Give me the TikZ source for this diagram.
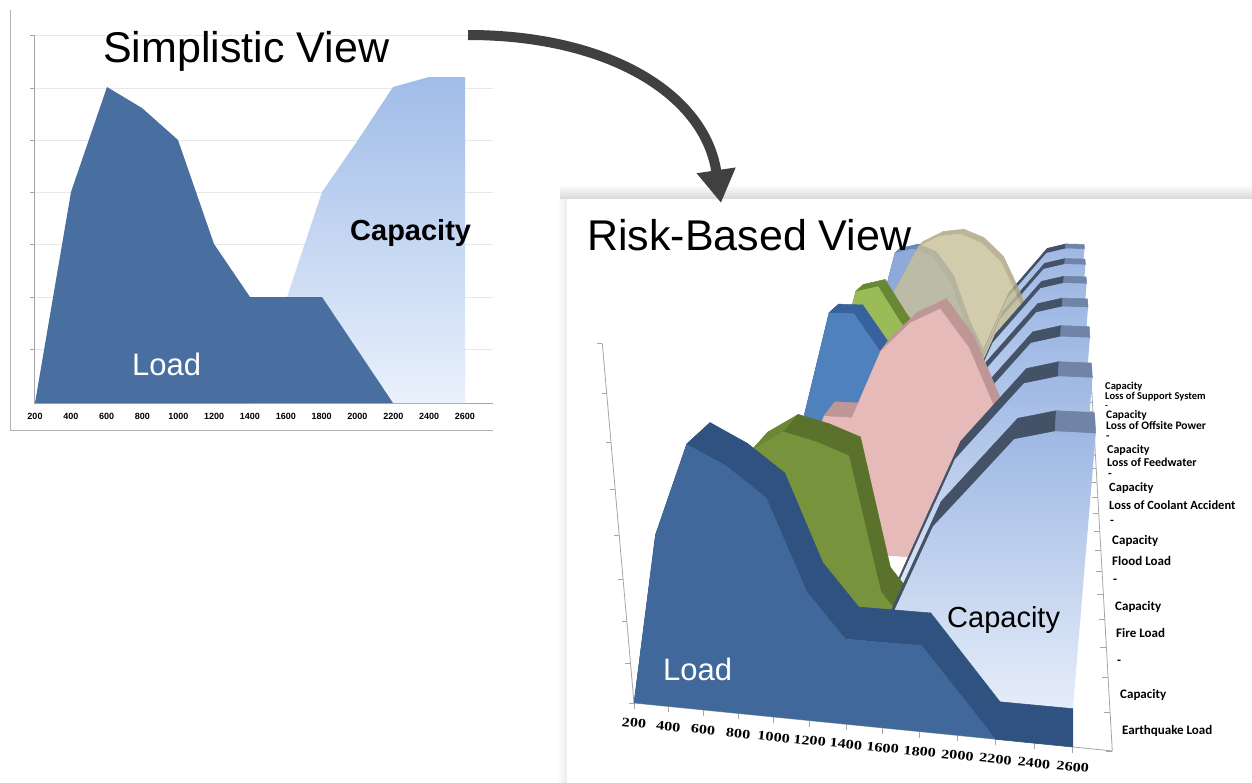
\documentclass[tikz,border=0pt]{standalone}
\usepackage{fontspec}
\setmainfont{Liberation Sans}
\newfontfamily\carl{Carlito}
\newfontfamily\serb{Liberation Serif}
\usetikzlibrary{arrows.meta,calc}
\definecolor{loadF}{RGB}{64,104,155}
\definecolor{loadT}{RGB}{47,82,128}
\definecolor{capT}{RGB}{158,184,228}
\definecolor{capB}{RGB}{230,237,249}
\definecolor{capR}{RGB}{68,82,104}
\definecolor{capF}{RGB}{112,132,168}
\definecolor{fireF}{RGB}{119,147,60}
\definecolor{fireR}{RGB}{108,136,54}
\definecolor{fireT}{RGB}{90,114,44}
\definecolor{floodF}{RGB}{230,186,185}
\definecolor{floodT}{RGB}{190,150,150}
\definecolor{locaF}{RGB}{79,129,189}
\definecolor{locaT}{RGB}{56,98,158}
\definecolor{fwF}{RGB}{155,187,89}
\definecolor{fwT}{RGB}{106,136,52}
\definecolor{offF}{RGB}{200,192,152}
\definecolor{offT}{RGB}{170,162,125}
\definecolor{supF}{RGB}{142,170,219}
\definecolor{supT}{RGB}{104,136,190}
\definecolor{arrC}{RGB}{64,64,64}
\definecolor{sLoad}{RGB}{72,111,160}
\definecolor{sCapT}{RGB}{160,188,232}
\definecolor{sCapB}{RGB}{234,241,252}
\def\capv{0,0,0,0,0,0,0,2.04,4.06,5.06,6.06,6.27,6.27}
\newif\ifdrawstrip
\newcommand\slab[6]{%
  \pgfmathsetmacro\zf{#1}%
  \pgfmathsetmacro\zb{#1+1}%
  \edef\vlist{#2}%
  \foreach \yv [count=\k from 0] in \vlist {%
    \expandafter\xdef\csname sv\k\endcsname{\yv}%
    \coordinate (f\k) at ({pu(\k,\yv,\zf)},{pv(\k,\yv,\zf)});
    \coordinate (b\k) at ({pu(\k,\yv,\zb)},{pv(\k,\yv,\zb)});
  }%
  \coordinate (g0) at ({pu(0,0,\zf)},{pv(0,0,\zf)});
  \coordinate (g12) at ({pu(12,0,\zf)},{pv(12,0,\zf)});
  \begin{scope}[#6]
    \foreach \i in {0,...,11} {%
      \pgfmathtruncatemacro\j{\i+1}%
      \edef\ya{\csname sv\i\endcsname}%
      \edef\yb{\csname sv\j\endcsname}%
      \ifdim\yb pt>\ya pt\relax\def\sc{#4}\else\def\sc{#5}\fi
      \drawstriptrue
      \ifdim\ya pt=0pt\relax\ifdim\yb pt=0pt\relax\ifdim\zf pt>0pt\relax\drawstripfalse\fi\fi\fi
      \ifdrawstrip
        \filldraw[fill=\sc, draw=\sc, line width=0.5pt, line join=round] (f\i) -- (f\j) -- (b\j) -- (b\i) -- cycle;
      \fi
    }
    \path[#3] (g0) \foreach \i in {0,...,12} { -- (f\i)} -- (g12) -- cycle;
  \end{scope}
}
\begin{document}
\begin{tikzpicture}[x=1pt,y=-1pt,
  declare function={
    pw(\x,\y,\z)=1-0.0055*\x-0.01534*\y+0.0577*\z;
    pu(\x,\y,\z)=(634+30.68*\x-13.2*\y+62*\z)/pw(\x,\y,\z);
    pv(\x,\y,\z)=(703-0.44*\x-50.2*\y+5.19*\z)/pw(\x,\y,\z);
  },
  bigtitle/.style={font=\fontsize{43}{45}\selectfont, inner sep=0pt, anchor=base west},
  bigcap/.style={font=\fontsize{29}{31}\selectfont, inner sep=0pt, anchor=base west},
  bigload/.style={font=\fontsize{31}{33}\selectfont, text=white, inner sep=0pt, anchor=base west},
  stick/.style={font=\bfseries\fontsize{9}{9}\selectfont, inner sep=0pt},
  xtick/.style={font=\serb\bfseries\fontsize{13}{13}\selectfont, inner sep=0pt, rotate=-5.7, xscale=1.25},
  dlab/.style={font=\carl\bfseries\fontsize{#1}{#1}\selectfont, inner sep=0pt, anchor=west},
  dlab/.default=13,
  axisline/.style={draw=black!35, line width=0.8pt},
  gridline/.style={draw=black!9, line width=0.8pt},
  arrowline/.style={draw=arrC, line width=10pt, line cap=butt, -{Triangle[length=33pt,width=37pt]}}
]
\useasboundingbox (0,0) rectangle (1252,782);
\fill[white] (0,0) rectangle (1252,782);

% ---------------- left chart ----------------
\draw[draw=black!30, line width=1pt] (10,10) -- (10,430) -- (493,430);
\foreach \gy in {35,88,140,192,244,297,349} {
  \draw[gridline] (34,\gy) -- (493,\gy);
  \draw[axisline] (30,\gy) -- (34,\gy);
}
\draw[axisline] (34,35) -- (34,403) -- (493,403);
\shade[top color=sCapT, bottom color=sCapB]
  (250,403) -- (287,297) -- (322,192) -- (358,140) -- (393,87) -- (429,77) -- (465,77) -- (465,403) -- cycle;
\fill[sLoad] (35,403) -- (71,192) -- (107,87) -- (142,108) -- (178,140) -- (214,244) -- (250,297) -- (322,297) -- (393,403) -- cycle;
\foreach \v [count=\n from 0] in {200,400,600,800,1000,1200,1400,1600,1800,2000,2200,2400,2600} {
  \node[stick] (sl\n) at ({35+35.83*\n},416) {\v};
}
\node[bigtitle] (tS) at (103,62) {Simplistic View};
\node[bigcap, font=\bfseries\fontsize{29}{31}\selectfont] (cS) at (350,240) {Capacity};
\node[bigload] (lS) at (132,375) {Load};

% ---------------- right panel ----------------
\shade[top color=white, bottom color=black!15] (560,184) rectangle (1252,199);
\shade[left color=white, right color=black!8] (557,199) rectangle (567,782);
\fill[white] (567,199) rectangle (1252,782);

% axes of the 3D chart
\foreach \k in {0,...,8} {
  \coordinate (va\k) at ({pu(0,\k,0)},{pv(0,\k,0)});
  \draw[axisline] (va\k) -- ++(-5,0);
}
\draw[axisline] (va0) -- (va8);
\coordinate (da0) at ({pu(13,0,0)},{pv(13,0,0)});
\coordinate (da20) at ({pu(13,0,20)},{pv(13,0,20)});
\draw[axisline] (va0) -- (da0);
\draw[axisline] (da0) -- (da20);
\foreach \k in {0,...,20} {
  \coordinate (dt\k) at ({pu(13,0,\k)},{pv(13,0,\k)});
  \draw[axisline] (dt\k) -- ++(-6,0);
}
\foreach \k in {0,...,12} {
  \coordinate (xt\k) at ({pu(\k,0,0)},{pv(\k,0,0)});
  \draw[axisline] (xt\k) -- ++(0,6);
}

% series, back to front
\slab{19}{\capv}{shade,top color=capT,bottom color=capB}{capR}{capF}{}
\slab{18}{0,3,6.1,6.3,6,5,3,1.5,0.5,0,0,0,0}{fill=supF}{supT}{supT}{}
\slab{16}{\capv}{shade,top color=capT,bottom color=capB}{capR}{capF}{}
\slab{15}{0,2,4,5.5,7,7.4,7.5,7.2,6.5,5,2.5,0.5,0}{fill=offF}{offT}{offT}{transparency group,opacity=0.8}
\slab{13}{\capv}{shade,top color=capT,bottom color=capB}{capR}{capF}{}
\slab{12}{0,3,6,6.2,5,4,3,2,1,0.5,0,0,0}{fill=fwF}{fwT}{fwT}{}
\slab{10}{\capv}{shade,top color=capT,bottom color=capB}{capR}{capF}{}
\slab{9}{0,3,6.1,6.1,5,4,3,2,1,0.5,0,0,0}{fill=locaF}{locaT}{locaT}{}
\slab{7}{\capv}{shade,top color=capT,bottom color=capB}{capR}{capF}{}
\slab{6}{0,1.5,2,4.1,4.1,6,6.8,7.2,6.2,4.5,2,0.5,0}{fill=floodF}{floodT}{floodT}{}
\slab{4}{\capv}{shade,top color=capT,bottom color=capB}{capR}{capF}{}
\slab{3}{0,2.5,4.5,5,4.8,4.5,1,0,0,0,0,0,0}{fill=fireF}{fireR}{fireT}{}
\slab{1}{\capv}{shade,top color=capT,bottom color=capB}{capR}{capF}{}
\slab{0}{0,4.06,6.06,5.65,5.04,3.04,2.04,2.04,2.04,1.02,0,0,0}{fill=loadF}{loadT}{loadT}{}

% category labels
\foreach \v [count=\n from 0] in {200,400,600,800,1000,1200,1400,1600,1800,2000,2200,2400,2600} {
  \node[xtick] (xl\n) at ($(xt\n)+(0,20)$) {\v};
}

% series labels
\node[dlab=10.5] (d1) at (1105,387) {Capacity};
\node[dlab=10.5] (d2) at (1105,397) {Loss of Support System};
\node[dlab=9] (d3) at (1105,407) {-};
\node[dlab=11.5] (d4) at (1106,415) {Capacity};
\node[dlab=11.5] (d5) at (1106,425) {Loss of Offsite Power};
\node[dlab=11] (d6) at (1106,438) {-};
\node[dlab=12] (d7) at (1107,450) {Capacity};
\node[dlab=12] (d8) at (1107,462) {Loss of Feedwater};
\node[dlab=12] (d9) at (1108,475) {-};
\node[dlab=12.5] (d10) at (1109,488) {Capacity};
\node[dlab=12.5] (d11) at (1109,505) {Loss of Coolant Accident};
\node[dlab=12.5] (d12) at (1110,522) {-};
\node[dlab] (d13) at (1112,541) {Capacity};
\node[dlab] (d14) at (1112,561) {Flood Load};
\node[dlab] (d15) at (1113,581) {-};
\node[dlab] (d16) at (1115,607) {Capacity};
\node[dlab] (d17) at (1116,633) {Fire Load};
\node[dlab] (d18) at (1117,662) {-};
\node[dlab] (d19) at (1120,695) {Capacity};
\node[dlab] (d20) at (1122,731) {Earthquake Load};

\node[bigtitle] (tR) at (587,250) {Risk-Based View};
\node[bigcap] (cR) at (947,627) {Capacity};
\node[bigload] (lR) at (663,680) {Load};

% arrow
\coordinate (aS) at (468,35);
\coordinate (aE) at (721,203);
\draw[arrowline] (aS) .. controls (610,35) and (705,95) .. (aE);
\end{tikzpicture}
\end{document}
